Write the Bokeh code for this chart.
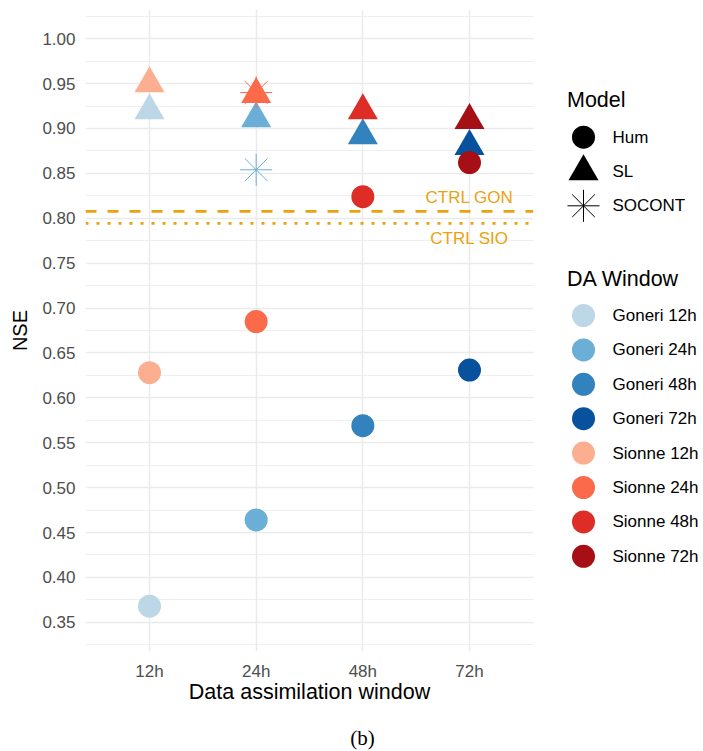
from bokeh.plotting import figure
from bokeh.models import FactorRange, Range1d, Span, FixedTicker, NumeralTickFormatter
from bokeh.layouts import row, column
from bokeh.core.properties import value
from bokeh.embed import file_html
from bokeh.resources import INLINE

# ---------------- data ----------------
windows = ["12h", "24h", "48h", "72h"]

goneri_hum = [0.368, 0.464, 0.569, 0.631]
goneri_sl = [0.920, 0.911, 0.892, 0.880]
sionne_hum = [0.628, 0.685, 0.824, 0.862]
sionne_sl = [0.950, 0.938, 0.920, 0.909]

socont_windows = ["24h"]
goneri_socont = [0.854]
sionne_socont = [0.940]

ctrl_gon = 0.8077
ctrl_sio = 0.7944
ctrl_labels = ["CTRL GON", "CTRL SIO"]
ctrl_label_y = [0.8233, 0.7773]
ctrl_label_x = ["72h", "72h"]

goneri_colors = ["#BDD7E7", "#6BAED6", "#3182BD", "#08519C"]
sionne_colors = ["#FCAE91", "#FB6A4A", "#DE2D26", "#A50F15"]

model_names = ["Hum", "SL", "SOCONT"]
model_markers = ["circle", "triangle", "asterisk"]
da_labels = ["Goneri 12h", "Goneri 24h", "Goneri 48h", "Goneri 72h",
             "Sionne 12h", "Sionne 24h", "Sionne 48h", "Sionne 72h"]
da_colors = goneri_colors + sionne_colors

y_major = [0.35, 0.40, 0.45, 0.50, 0.55, 0.60, 0.65, 0.70, 0.75, 0.80, 0.85, 0.90, 0.95, 1.00]
y_minor = [0.325, 0.375, 0.425, 0.475, 0.525, 0.575, 0.625, 0.675, 0.725, 0.775,
           0.825, 0.875, 0.925, 0.975, 1.025]

caption = "(b)"

SANS = "Liberation Sans"
GOLD = "#E9A30F"
GRID = "#EBEBEB"

TOP_H = 711
FRAME_TOP = 9
FRAME_BOTTOM = 651

# ---------------- main panel ----------------
p1 = figure(width=548, height=TOP_H,
            x_range=FactorRange(*windows, range_padding=0.1, range_padding_units="absolute"),
            y_range=Range1d(0.3175, 1.0325),
            output_backend="svg", toolbar_location=None,
            min_border_left=85, min_border_right=15, min_border_top=FRAME_TOP,
            min_border_bottom=TOP_H - FRAME_BOTTOM)
p1.outline_line_color = None
p1.background_fill_color = "white"

p1.yaxis.ticker = FixedTicker(ticks=y_major, minor_ticks=y_minor)
p1.yaxis.formatter = NumeralTickFormatter(format="0.00")
for ax in (p1.xaxis[0], p1.yaxis[0]):
    ax.axis_line_color = None
    ax.major_tick_line_color = None
    ax.minor_tick_line_color = None
    ax.major_tick_in = 0
    ax.major_tick_out = 0
    ax.minor_tick_in = 0
    ax.minor_tick_out = 0
    ax.major_label_text_font = SANS
    ax.major_label_text_font_size = "17px"
    ax.major_label_text_color = "#4D4D4D"
    ax.axis_label_text_font = SANS
    ax.axis_label_text_font_style = "normal"
    ax.axis_label_text_color = "black"

p1.yaxis.axis_label = "NSE"
p1.yaxis.axis_label_text_font_size = "20px"
p1.yaxis.major_label_standoff = 10
p1.yaxis.axis_label_standoff = 8
p1.xaxis.axis_label = "Data assimilation window"
p1.xaxis.axis_label_text_font_size = "21.5px"
p1.xaxis.major_label_standoff = 10
p1.xaxis.axis_label_standoff = -4

p1.ygrid.grid_line_color = GRID
p1.ygrid.grid_line_width = 1.5
p1.ygrid.minor_grid_line_color = GRID
p1.ygrid.minor_grid_line_width = 0.8
p1.xgrid.grid_line_color = GRID
p1.xgrid.grid_line_width = 1.5

# reference lines
p1.add_layout(Span(location=ctrl_gon, dimension="width", line_color=GOLD,
                   line_width=2.8, line_dash="11 11"))
p1.add_layout(Span(location=ctrl_sio, dimension="width", line_color=GOLD,
                   line_width=2.8, line_dash="3 8"))
p1.text(x=ctrl_label_x, y=ctrl_label_y, text=ctrl_labels, text_align="center",
        text_baseline="middle", text_font=value(SANS), text_font_size="17px",
        text_color=GOLD)

# points (Goneri first, then Sionne)
for hum, sl, soc, cols in ((goneri_hum, goneri_sl, goneri_socont, goneri_colors),
                           (sionne_hum, sionne_sl, sionne_socont, sionne_colors)):
    p1.scatter(x=windows, y=hum, marker="circle", size=23, fill_color=cols,
               line_color=None)
    p1.scatter(x=windows, y=sl, marker="triangle", size=30, fill_color=cols,
               line_color=None)
    soc_cols = [cols[windows.index(w)] for w in socont_windows]
    p1.scatter(x=socont_windows, y=soc, marker="asterisk", size=32,
               line_color=soc_cols, line_width=1)

# ---------------- legend panel (frame aligned with main frame) ----------------
p2 = figure(width=703 - 548, height=TOP_H, x_range=Range1d(0, 703 - 548),
            y_range=Range1d(FRAME_BOTTOM, FRAME_TOP),
            x_axis_location=None, y_axis_location=None,
            output_backend="svg", toolbar_location=None, min_border=0)
p2.outline_line_color = None
p2.grid.visible = False

key_x = 35
lab_x = 64
title_x = 18.5
model_title_y = 99
model_y = [136.7 + 34.3 * i for i in range(len(model_names))]
da_title_y = 278
da_y = [315 + 34.4 * i for i in range(len(da_labels))]

p2.text(x=[title_x, title_x], y=[model_title_y, da_title_y], text=["Model", "DA Window"],
        text_baseline="middle", text_font=value(SANS), text_font_size="21.5px",
        text_color="black")

model_sizes = {"circle": 23, "triangle": 30, "asterisk": 32}
for name, mk, yy in zip(model_names, model_markers, model_y):
    if mk == "asterisk":
        p2.scatter(x=[key_x], y=[yy], marker=mk, size=model_sizes[mk],
                   line_color="black", line_width=1)
    else:
        p2.scatter(x=[key_x], y=[yy], marker=mk, size=model_sizes[mk],
                   fill_color="black", line_color=None)
p2.text(x=[lab_x] * len(model_names), y=model_y, text=model_names, text_baseline="middle",
        text_font=value(SANS), text_font_size="17px", text_color="black")

p2.scatter(x=[key_x] * len(da_labels), y=da_y, marker="circle", size=23,
           fill_color=da_colors, line_color=None)
p2.text(x=[lab_x] * len(da_labels), y=da_y, text=da_labels, text_baseline="middle",
        text_font=value(SANS), text_font_size="17px", text_color="black")

# ---------------- caption panel ----------------
CAP_H = 750 - TOP_H
p3 = figure(width=703, height=CAP_H, x_range=Range1d(0, 703), y_range=Range1d(CAP_H, 0),
            x_axis_location=None, y_axis_location=None,
            output_backend="svg", toolbar_location=None, min_border=0)
p3.outline_line_color = None
p3.grid.visible = False
p3.text(x=[362], y=[737 - TOP_H], text=[caption], text_align="center",
        text_baseline="middle", text_font=value("Liberation Serif"),
        text_font_size="21px", text_color="black")

layout = column(row(p1, p2), p3)
open("out.html", "w").write(file_html(layout, INLINE))
